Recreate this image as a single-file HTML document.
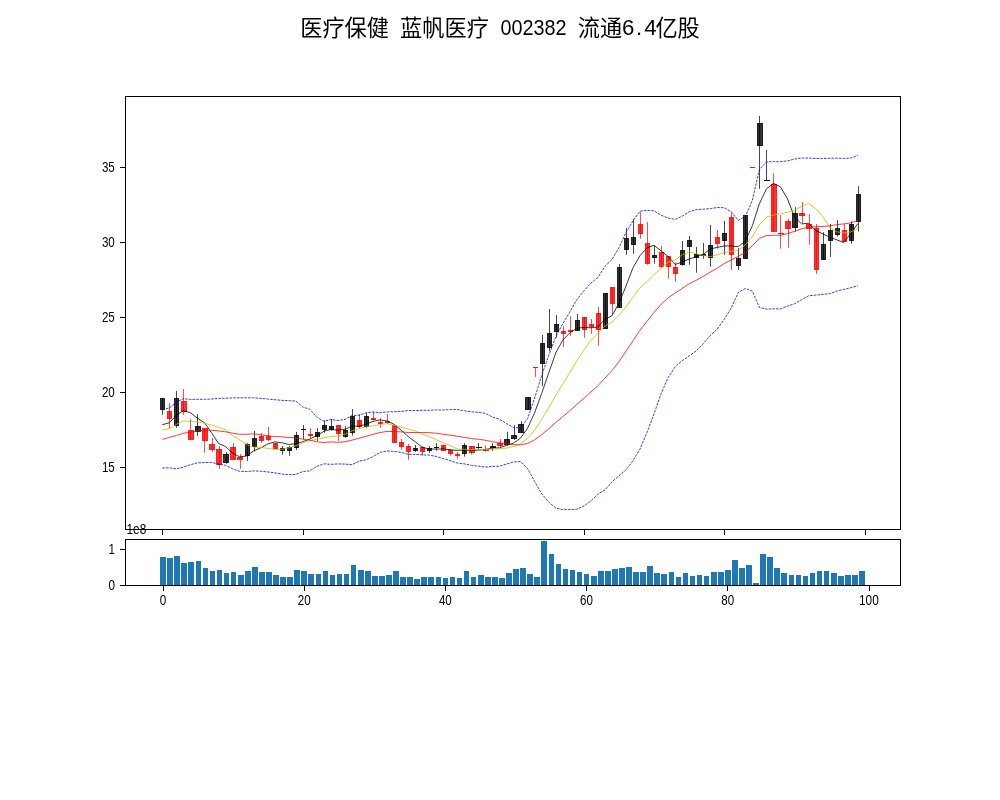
<!DOCTYPE html>
<html lang="zh"><head><meta charset="utf-8"><title>医疗保健 蓝帆医疗 002382</title>
<style>html,body{margin:0;padding:0;background:#fff;}svg{display:block;}text{font-family:"Liberation Sans","Noto Sans CJK SC",sans-serif;fill:#000;}.t{font-size:14.4px;}.cj{font-family:"Noto Sans CJK SC","WenQuanYi Zen Hei",sans-serif;font-size:22.2px;}.tn{font-size:22.2px;}</style></head><body>
<svg width="1000" height="800" viewBox="0 0 1000 800">
<rect width="1000" height="800" fill="#fff"/>
<text class="cj" x="300.20" y="36.0" textLength="88.8" lengthAdjust="spacing">医疗保健</text>
<text class="cj" x="400.10" y="36.0" textLength="88.8" lengthAdjust="spacing">蓝帆医疗</text>
<text class="tn" x="500.60" y="35.00" textLength="66.0" lengthAdjust="spacingAndGlyphs">002382</text>
<text class="cj" x="577.70" y="36.0" textLength="44.4" lengthAdjust="spacing">流通</text>
<text class="tn" x="622.0 636.0 644.2" y="35.00">6.4</text>
<text class="cj" x="655.40" y="36.0" textLength="44.4" lengthAdjust="spacing">亿股</text>
<g fill="#1f77b4" shape-rendering="crispEdges">
<rect x="160" y="557" width="6" height="28.5"/>
<rect x="167" y="558" width="6" height="27.5"/>
<rect x="174" y="556" width="6" height="29.5"/>
<rect x="181" y="563" width="6" height="22.5"/>
<rect x="188" y="562" width="6" height="23.5"/>
<rect x="196" y="561" width="5" height="24.5"/>
<rect x="203" y="568" width="5" height="17.5"/>
<rect x="210" y="571" width="5" height="14.5"/>
<rect x="217" y="570" width="5" height="15.5"/>
<rect x="224" y="573" width="5" height="12.5"/>
<rect x="231" y="572" width="5" height="13.5"/>
<rect x="238" y="575" width="6" height="10.5"/>
<rect x="245" y="571" width="6" height="14.5"/>
<rect x="252" y="567" width="6" height="18.5"/>
<rect x="259" y="572" width="6" height="13.5"/>
<rect x="266" y="572" width="6" height="13.5"/>
<rect x="273" y="575" width="6" height="10.5"/>
<rect x="280" y="577" width="6" height="8.5"/>
<rect x="287" y="577" width="6" height="8.5"/>
<rect x="294" y="570" width="6" height="15.5"/>
<rect x="301" y="571" width="6" height="14.5"/>
<rect x="308" y="574" width="6" height="11.5"/>
<rect x="316" y="574" width="5" height="11.5"/>
<rect x="323" y="571" width="5" height="14.5"/>
<rect x="330" y="575" width="5" height="10.5"/>
<rect x="337" y="574" width="5" height="11.5"/>
<rect x="344" y="574" width="5" height="11.5"/>
<rect x="351" y="565" width="5" height="20.5"/>
<rect x="358" y="570" width="6" height="15.5"/>
<rect x="365" y="571" width="6" height="14.5"/>
<rect x="372" y="576" width="6" height="9.5"/>
<rect x="379" y="576" width="6" height="9.5"/>
<rect x="386" y="575" width="6" height="10.5"/>
<rect x="393" y="571" width="6" height="14.5"/>
<rect x="400" y="577" width="6" height="8.5"/>
<rect x="407" y="577" width="6" height="8.5"/>
<rect x="414" y="579" width="6" height="6.5"/>
<rect x="421" y="577" width="6" height="8.5"/>
<rect x="428" y="577" width="6" height="8.5"/>
<rect x="436" y="577" width="5" height="8.5"/>
<rect x="443" y="578" width="5" height="7.5"/>
<rect x="450" y="577" width="5" height="8.5"/>
<rect x="457" y="578" width="5" height="7.5"/>
<rect x="464" y="571" width="5" height="14.5"/>
<rect x="471" y="577" width="5" height="8.5"/>
<rect x="478" y="575" width="6" height="10.5"/>
<rect x="485" y="577" width="6" height="8.5"/>
<rect x="492" y="577" width="6" height="8.5"/>
<rect x="499" y="578" width="6" height="7.5"/>
<rect x="506" y="573" width="6" height="12.5"/>
<rect x="513" y="569" width="6" height="16.5"/>
<rect x="520" y="568" width="6" height="17.5"/>
<rect x="527" y="574" width="6" height="11.5"/>
<rect x="534" y="577" width="6" height="8.5"/>
<rect x="541" y="541" width="6" height="44.5"/>
<rect x="549" y="554" width="5" height="31.5"/>
<rect x="556" y="564" width="5" height="21.5"/>
<rect x="563" y="569" width="5" height="16.5"/>
<rect x="570" y="570" width="5" height="15.5"/>
<rect x="577" y="572" width="5" height="13.5"/>
<rect x="584" y="574" width="5" height="11.5"/>
<rect x="591" y="576" width="6" height="9.5"/>
<rect x="598" y="571" width="6" height="14.5"/>
<rect x="605" y="571" width="6" height="14.5"/>
<rect x="612" y="569" width="6" height="16.5"/>
<rect x="619" y="568" width="6" height="17.5"/>
<rect x="626" y="567" width="6" height="18.5"/>
<rect x="633" y="572" width="6" height="13.5"/>
<rect x="640" y="572" width="6" height="13.5"/>
<rect x="647" y="566" width="6" height="19.5"/>
<rect x="654" y="573" width="6" height="12.5"/>
<rect x="661" y="574" width="6" height="11.5"/>
<rect x="669" y="572" width="5" height="13.5"/>
<rect x="676" y="577" width="5" height="8.5"/>
<rect x="683" y="573" width="5" height="12.5"/>
<rect x="690" y="576" width="5" height="9.5"/>
<rect x="697" y="575" width="5" height="10.5"/>
<rect x="704" y="576" width="5" height="9.5"/>
<rect x="711" y="572" width="6" height="13.5"/>
<rect x="718" y="572" width="6" height="13.5"/>
<rect x="725" y="570" width="6" height="15.5"/>
<rect x="732" y="560" width="6" height="25.5"/>
<rect x="739" y="568" width="6" height="17.5"/>
<rect x="746" y="565" width="6" height="20.5"/>
<rect x="753" y="583" width="6" height="2.5"/>
<rect x="760" y="554" width="6" height="31.5"/>
<rect x="767" y="557" width="6" height="28.5"/>
<rect x="774" y="568" width="6" height="17.5"/>
<rect x="781" y="573" width="6" height="12.5"/>
<rect x="789" y="575" width="5" height="10.5"/>
<rect x="796" y="575" width="5" height="10.5"/>
<rect x="803" y="576" width="5" height="9.5"/>
<rect x="810" y="573" width="5" height="12.5"/>
<rect x="817" y="571" width="5" height="14.5"/>
<rect x="824" y="571" width="5" height="14.5"/>
<rect x="831" y="573" width="6" height="12.5"/>
<rect x="838" y="576" width="6" height="9.5"/>
<rect x="845" y="575" width="6" height="10.5"/>
<rect x="852" y="575" width="6" height="10.5"/>
<rect x="859" y="571" width="6" height="14.5"/>
</g>
<g stroke-width="1.00">
<rect x="160.50" y="398.50" width="4.00" height="11.00" fill="#000" stroke="#000" fill-opacity="0.8" stroke-opacity="0.8"/>
<rect x="167.50" y="411.50" width="4.00" height="7.00" fill="#f00" stroke="#f00" fill-opacity="0.8" stroke-opacity="0.8"/>
<rect x="174.50" y="398.50" width="4.00" height="27.00" fill="#000" stroke="#000" fill-opacity="0.8" stroke-opacity="0.8"/>
<rect x="181.50" y="401.50" width="5.00" height="10.00" fill="#f00" stroke="#f00" fill-opacity="0.8" stroke-opacity="0.8"/>
<rect x="188.50" y="430.50" width="5.00" height="9.00" fill="#f00" stroke="#f00" fill-opacity="0.8" stroke-opacity="0.8"/>
<rect x="195.50" y="426.50" width="5.00" height="5.00" fill="#000" stroke="#000" fill-opacity="0.8" stroke-opacity="0.8"/>
<rect x="202.50" y="428.50" width="5.00" height="12.00" fill="#f00" stroke="#f00" fill-opacity="0.8" stroke-opacity="0.8"/>
<rect x="209.50" y="444.50" width="5.00" height="5.00" fill="#f00" stroke="#f00" fill-opacity="0.8" stroke-opacity="0.8"/>
<rect x="216.50" y="449.50" width="5.00" height="15.00" fill="#f00" stroke="#f00" fill-opacity="0.8" stroke-opacity="0.8"/>
<rect x="223.50" y="454.50" width="5.00" height="8.00" fill="#000" stroke="#000" fill-opacity="0.8" stroke-opacity="0.8"/>
<rect x="230.50" y="447.50" width="5.00" height="12.00" fill="#f00" stroke="#f00" fill-opacity="0.8" stroke-opacity="0.8"/>
<rect x="237.50" y="457.50" width="5.00" height="2.00" fill="#f00" stroke="#f00" fill-opacity="0.8" stroke-opacity="0.8"/>
<rect x="245.50" y="444.50" width="4.00" height="11.00" fill="#000" stroke="#000" fill-opacity="0.8" stroke-opacity="0.8"/>
<rect x="252.50" y="438.50" width="4.00" height="8.00" fill="#000" stroke="#000" fill-opacity="0.8" stroke-opacity="0.8"/>
<rect x="259.50" y="436.50" width="4.00" height="4.00" fill="#f00" stroke="#f00" fill-opacity="0.8" stroke-opacity="0.8"/>
<rect x="266.50" y="436.50" width="4.00" height="3.00" fill="#f00" stroke="#f00" fill-opacity="0.8" stroke-opacity="0.8"/>
<rect x="273.50" y="443.50" width="4.00" height="5.00" fill="#f00" stroke="#f00" fill-opacity="0.8" stroke-opacity="0.8"/>
<rect x="280.50" y="448.50" width="4.00" height="2.00" fill="#000" stroke="#000" fill-opacity="0.8" stroke-opacity="0.8"/>
<rect x="287.50" y="447.50" width="4.00" height="3.00" fill="#000" stroke="#000" fill-opacity="0.8" stroke-opacity="0.8"/>
<rect x="294.50" y="435.50" width="4.00" height="12.00" fill="#000" stroke="#000" fill-opacity="0.8" stroke-opacity="0.8"/>
<path d="M301.00 429.50H306.00" stroke="#000" stroke-opacity="0.93" fill="none"/>
<rect x="308.50" y="434.50" width="4.00" height="1.00" fill="#f00" stroke="#f00" fill-opacity="0.8" stroke-opacity="0.8"/>
<rect x="315.50" y="432.50" width="4.00" height="4.00" fill="#000" stroke="#000" fill-opacity="0.8" stroke-opacity="0.8"/>
<rect x="322.50" y="425.50" width="4.00" height="4.00" fill="#000" stroke="#000" fill-opacity="0.8" stroke-opacity="0.8"/>
<rect x="329.50" y="426.50" width="4.00" height="3.00" fill="#000" stroke="#000" fill-opacity="0.8" stroke-opacity="0.8"/>
<rect x="336.50" y="425.50" width="4.00" height="8.00" fill="#f00" stroke="#f00" fill-opacity="0.8" stroke-opacity="0.8"/>
<rect x="343.50" y="430.50" width="4.00" height="6.00" fill="#000" stroke="#000" fill-opacity="0.8" stroke-opacity="0.8"/>
<rect x="350.50" y="416.50" width="4.00" height="16.00" fill="#000" stroke="#000" fill-opacity="0.8" stroke-opacity="0.8"/>
<rect x="357.50" y="420.50" width="4.00" height="6.00" fill="#f00" stroke="#f00" fill-opacity="0.8" stroke-opacity="0.8"/>
<rect x="364.50" y="416.50" width="4.00" height="10.00" fill="#000" stroke="#000" fill-opacity="0.8" stroke-opacity="0.8"/>
<rect x="371.50" y="418.50" width="4.00" height="1.00" fill="#f00" stroke="#f00" fill-opacity="0.8" stroke-opacity="0.8"/>
<rect x="378.50" y="422.50" width="4.00" height="1.00" fill="#f00" stroke="#f00" fill-opacity="0.8" stroke-opacity="0.8"/>
<rect x="385.50" y="421.50" width="4.00" height="1.00" fill="#f00" stroke="#f00" fill-opacity="0.8" stroke-opacity="0.8"/>
<rect x="392.50" y="425.50" width="4.00" height="17.00" fill="#f00" stroke="#f00" fill-opacity="0.8" stroke-opacity="0.8"/>
<rect x="399.50" y="442.50" width="4.00" height="4.00" fill="#f00" stroke="#f00" fill-opacity="0.8" stroke-opacity="0.8"/>
<rect x="406.50" y="446.50" width="4.00" height="5.00" fill="#f00" stroke="#f00" fill-opacity="0.8" stroke-opacity="0.8"/>
<rect x="413.50" y="448.50" width="4.00" height="2.00" fill="#000" stroke="#000" fill-opacity="0.8" stroke-opacity="0.8"/>
<rect x="420.50" y="447.50" width="4.00" height="4.00" fill="#f00" stroke="#f00" fill-opacity="0.8" stroke-opacity="0.8"/>
<rect x="427.50" y="448.50" width="4.00" height="2.00" fill="#000" stroke="#000" fill-opacity="0.8" stroke-opacity="0.8"/>
<path d="M434.00 447.50H439.00" stroke="#000" stroke-opacity="0.93" fill="none"/>
<rect x="441.50" y="445.50" width="4.00" height="5.00" fill="#f00" stroke="#f00" fill-opacity="0.8" stroke-opacity="0.8"/>
<rect x="448.50" y="450.50" width="4.00" height="3.00" fill="#f00" stroke="#f00" fill-opacity="0.8" stroke-opacity="0.8"/>
<rect x="455.50" y="454.50" width="4.00" height="1.00" fill="#f00" stroke="#f00" fill-opacity="0.8" stroke-opacity="0.8"/>
<rect x="462.50" y="445.50" width="4.00" height="8.00" fill="#000" stroke="#000" fill-opacity="0.8" stroke-opacity="0.8"/>
<rect x="469.50" y="446.50" width="5.00" height="6.00" fill="#f00" stroke="#f00" fill-opacity="0.8" stroke-opacity="0.8"/>
<path d="M476.00 447.50H482.00" stroke="#000" stroke-opacity="0.93" fill="none"/>
<rect x="483.50" y="449.50" width="5.00" height="1.00" fill="#f00" stroke="#f00" fill-opacity="0.8" stroke-opacity="0.8"/>
<rect x="490.50" y="446.50" width="5.00" height="1.00" fill="#000" stroke="#000" fill-opacity="0.8" stroke-opacity="0.8"/>
<rect x="497.50" y="443.50" width="5.00" height="2.00" fill="#f00" stroke="#f00" fill-opacity="0.8" stroke-opacity="0.8"/>
<rect x="504.50" y="439.50" width="5.00" height="5.00" fill="#000" stroke="#000" fill-opacity="0.8" stroke-opacity="0.8"/>
<rect x="511.50" y="435.50" width="5.00" height="3.00" fill="#000" stroke="#000" fill-opacity="0.8" stroke-opacity="0.8"/>
<rect x="518.50" y="424.50" width="5.00" height="8.00" fill="#000" stroke="#000" fill-opacity="0.8" stroke-opacity="0.8"/>
<rect x="525.50" y="397.50" width="5.00" height="12.00" fill="#000" stroke="#000" fill-opacity="0.8" stroke-opacity="0.8"/>
<path d="M533.00 367.50H538.00" stroke="#f00" stroke-opacity="0.93" fill="none"/>
<rect x="540.50" y="343.50" width="4.00" height="20.00" fill="#000" stroke="#000" fill-opacity="0.8" stroke-opacity="0.8"/>
<rect x="547.50" y="333.50" width="4.00" height="14.00" fill="#000" stroke="#000" fill-opacity="0.8" stroke-opacity="0.8"/>
<rect x="554.50" y="324.50" width="4.00" height="7.00" fill="#000" stroke="#000" fill-opacity="0.8" stroke-opacity="0.8"/>
<rect x="561.50" y="331.50" width="4.00" height="2.00" fill="#f00" stroke="#f00" fill-opacity="0.8" stroke-opacity="0.8"/>
<rect x="568.50" y="330.50" width="4.00" height="1.00" fill="#f00" stroke="#f00" fill-opacity="0.8" stroke-opacity="0.8"/>
<rect x="575.50" y="320.50" width="4.00" height="10.00" fill="#000" stroke="#000" fill-opacity="0.8" stroke-opacity="0.8"/>
<rect x="582.50" y="317.50" width="4.00" height="12.00" fill="#f00" stroke="#f00" fill-opacity="0.8" stroke-opacity="0.8"/>
<rect x="589.50" y="324.50" width="4.00" height="2.00" fill="#f00" stroke="#f00" fill-opacity="0.8" stroke-opacity="0.8"/>
<rect x="596.50" y="313.50" width="4.00" height="16.00" fill="#f00" stroke="#f00" fill-opacity="0.8" stroke-opacity="0.8"/>
<rect x="603.50" y="293.50" width="4.00" height="35.00" fill="#000" stroke="#000" fill-opacity="0.8" stroke-opacity="0.8"/>
<rect x="610.50" y="287.50" width="4.00" height="16.00" fill="#f00" stroke="#f00" fill-opacity="0.8" stroke-opacity="0.8"/>
<rect x="617.50" y="267.50" width="4.00" height="40.00" fill="#000" stroke="#000" fill-opacity="0.8" stroke-opacity="0.8"/>
<rect x="624.50" y="238.50" width="4.00" height="11.00" fill="#000" stroke="#000" fill-opacity="0.8" stroke-opacity="0.8"/>
<rect x="631.50" y="237.50" width="4.00" height="7.00" fill="#000" stroke="#000" fill-opacity="0.8" stroke-opacity="0.8"/>
<rect x="638.50" y="224.50" width="4.00" height="9.00" fill="#f00" stroke="#f00" fill-opacity="0.8" stroke-opacity="0.8"/>
<rect x="645.50" y="243.50" width="4.00" height="20.00" fill="#f00" stroke="#f00" fill-opacity="0.8" stroke-opacity="0.8"/>
<rect x="652.50" y="255.50" width="4.00" height="2.00" fill="#000" stroke="#000" fill-opacity="0.8" stroke-opacity="0.8"/>
<rect x="659.50" y="252.50" width="4.00" height="14.00" fill="#f00" stroke="#f00" fill-opacity="0.8" stroke-opacity="0.8"/>
<rect x="666.50" y="256.50" width="4.00" height="10.00" fill="#f00" stroke="#f00" fill-opacity="0.8" stroke-opacity="0.8"/>
<rect x="673.50" y="267.50" width="4.00" height="6.00" fill="#f00" stroke="#f00" fill-opacity="0.8" stroke-opacity="0.8"/>
<rect x="680.50" y="250.50" width="4.00" height="14.00" fill="#000" stroke="#000" fill-opacity="0.8" stroke-opacity="0.8"/>
<rect x="687.50" y="240.50" width="4.00" height="6.00" fill="#000" stroke="#000" fill-opacity="0.8" stroke-opacity="0.8"/>
<rect x="694.50" y="254.50" width="4.00" height="3.00" fill="#000" stroke="#000" fill-opacity="0.8" stroke-opacity="0.8"/>
<rect x="701.50" y="254.50" width="4.00" height="1.00" fill="#000" stroke="#000" fill-opacity="0.8" stroke-opacity="0.8"/>
<rect x="708.50" y="245.50" width="4.00" height="12.00" fill="#000" stroke="#000" fill-opacity="0.8" stroke-opacity="0.8"/>
<rect x="715.50" y="237.50" width="4.00" height="6.00" fill="#f00" stroke="#f00" fill-opacity="0.8" stroke-opacity="0.8"/>
<rect x="722.50" y="233.50" width="4.00" height="7.00" fill="#000" stroke="#000" fill-opacity="0.8" stroke-opacity="0.8"/>
<rect x="729.50" y="217.50" width="4.00" height="37.00" fill="#f00" stroke="#f00" fill-opacity="0.8" stroke-opacity="0.8"/>
<rect x="736.50" y="258.50" width="4.00" height="7.00" fill="#000" stroke="#000" fill-opacity="0.8" stroke-opacity="0.8"/>
<rect x="743.50" y="215.50" width="4.00" height="43.00" fill="#000" stroke="#000" fill-opacity="0.8" stroke-opacity="0.8"/>
<path d="M750.00 167.50H755.00" stroke="#f00" stroke-opacity="0.93" fill="none"/>
<rect x="757.50" y="123.50" width="5.00" height="22.00" fill="#000" stroke="#000" fill-opacity="0.8" stroke-opacity="0.8"/>
<path d="M764.00 180.50H770.00" stroke="#000" stroke-opacity="0.93" fill="none"/>
<rect x="771.50" y="184.50" width="5.00" height="47.00" fill="#f00" stroke="#f00" fill-opacity="0.8" stroke-opacity="0.8"/>
<path d="M778.00 233.50H784.00" stroke="#f00" stroke-opacity="0.93" fill="none"/>
<rect x="785.50" y="221.50" width="5.00" height="7.00" fill="#f00" stroke="#f00" fill-opacity="0.8" stroke-opacity="0.8"/>
<rect x="792.50" y="213.50" width="5.00" height="14.00" fill="#000" stroke="#000" fill-opacity="0.8" stroke-opacity="0.8"/>
<rect x="799.50" y="213.50" width="5.00" height="2.00" fill="#f00" stroke="#f00" fill-opacity="0.8" stroke-opacity="0.8"/>
<rect x="806.50" y="224.50" width="5.00" height="4.00" fill="#f00" stroke="#f00" fill-opacity="0.8" stroke-opacity="0.8"/>
<rect x="814.50" y="228.50" width="4.00" height="41.00" fill="#f00" stroke="#f00" fill-opacity="0.8" stroke-opacity="0.8"/>
<rect x="821.50" y="244.50" width="4.00" height="15.00" fill="#000" stroke="#000" fill-opacity="0.8" stroke-opacity="0.8"/>
<rect x="828.50" y="230.50" width="4.00" height="10.00" fill="#000" stroke="#000" fill-opacity="0.8" stroke-opacity="0.8"/>
<rect x="835.50" y="228.50" width="4.00" height="6.00" fill="#000" stroke="#000" fill-opacity="0.8" stroke-opacity="0.8"/>
<rect x="842.50" y="230.50" width="4.00" height="11.00" fill="#f00" stroke="#f00" fill-opacity="0.8" stroke-opacity="0.8"/>
<rect x="849.50" y="224.50" width="4.00" height="16.00" fill="#000" stroke="#000" fill-opacity="0.8" stroke-opacity="0.8"/>
<rect x="856.50" y="194.50" width="4.00" height="27.00" fill="#000" stroke="#000" fill-opacity="0.8" stroke-opacity="0.8"/>
</g>
<g stroke-width="0.72" fill="none">
<path d="M162.50 398.10V414.75" stroke="#000"/>
<path d="M169.50 403.10V428.10" stroke="#f00"/>
<path d="M176.50 391.00V427.75" stroke="#000"/>
<path d="M183.50 389.00V415.00" stroke="#f00"/>
<path d="M190.50 419.00V439.60" stroke="#f00"/>
<path d="M197.50 414.10V435.90" stroke="#000"/>
<path d="M204.50 428.40V452.75" stroke="#f00"/>
<path d="M212.50 438.10V451.90" stroke="#f00"/>
<path d="M219.50 446.25V468.75" stroke="#f00"/>
<path d="M226.50 452.10V463.75" stroke="#000"/>
<path d="M233.50 443.10V459.60" stroke="#f00"/>
<path d="M240.50 454.00V468.75" stroke="#f00"/>
<path d="M247.50 443.10V460.90" stroke="#000"/>
<path d="M254.50 431.00V451.50" stroke="#000"/>
<path d="M261.50 433.10V442.90" stroke="#f00"/>
<path d="M268.50 427.00V441.00" stroke="#f00"/>
<path d="M275.50 442.90V449.10" stroke="#f00"/>
<path d="M282.50 446.00V454.75" stroke="#000"/>
<path d="M289.50 446.00V455.90" stroke="#000"/>
<path d="M296.50 431.90V450.00" stroke="#000"/>
<path d="M303.50 425.00V439.00" stroke="#000"/>
<path d="M310.50 428.10V438.10" stroke="#f00"/>
<path d="M317.50 428.10V440.90" stroke="#000"/>
<path d="M324.50 420.40V432.75" stroke="#000"/>
<path d="M331.50 419.00V430.60" stroke="#000"/>
<path d="M338.50 425.25V440.90" stroke="#f00"/>
<path d="M345.50 426.25V437.75" stroke="#000"/>
<path d="M352.50 409.00V435.60" stroke="#000"/>
<path d="M359.50 414.00V428.40" stroke="#f00"/>
<path d="M366.50 413.10V427.90" stroke="#000"/>
<path d="M373.50 411.90V420.40" stroke="#f00"/>
<path d="M380.50 418.10V427.90" stroke="#f00"/>
<path d="M387.50 414.00V423.75" stroke="#f00"/>
<path d="M394.50 425.25V442.50" stroke="#f00"/>
<path d="M401.50 439.00V449.75" stroke="#f00"/>
<path d="M408.50 444.00V459.75" stroke="#f00"/>
<path d="M415.50 445.00V451.90" stroke="#000"/>
<path d="M422.50 446.25V455.60" stroke="#f00"/>
<path d="M429.50 446.00V452.90" stroke="#000"/>
<path d="M436.50 443.10V450.60" stroke="#000"/>
<path d="M443.50 444.40V451.00" stroke="#f00"/>
<path d="M450.50 449.00V455.60" stroke="#f00"/>
<path d="M457.50 452.10V458.75" stroke="#f00"/>
<path d="M464.50 443.10V456.60" stroke="#000"/>
<path d="M471.50 446.25V454.60" stroke="#f00"/>
<path d="M478.50 443.10V449.40" stroke="#000"/>
<path d="M485.50 445.40V451.60" stroke="#f00"/>
<path d="M492.50 443.10V450.90" stroke="#000"/>
<path d="M500.50 439.00V447.30" stroke="#f00"/>
<path d="M507.50 431.90V445.60" stroke="#000"/>
<path d="M514.50 425.00V440.00" stroke="#000"/>
<path d="M521.50 421.25V433.10" stroke="#000"/>
<path d="M528.50 397.25V409.40" stroke="#000"/>
<path d="M535.50 367.50V376.90" stroke="#f00"/>
<path d="M542.50 335.00V386.25" stroke="#000"/>
<path d="M549.50 309.00V351.25" stroke="#000"/>
<path d="M556.50 315.00V337.50" stroke="#000"/>
<path d="M563.50 326.25V346.90" stroke="#f00"/>
<path d="M570.50 316.25V335.90" stroke="#f00"/>
<path d="M577.50 314.00V330.40" stroke="#000"/>
<path d="M584.50 317.10V337.90" stroke="#f00"/>
<path d="M591.50 319.00V333.75" stroke="#f00"/>
<path d="M598.50 306.90V345.90" stroke="#f00"/>
<path d="M605.50 293.10V328.50" stroke="#000"/>
<path d="M612.50 287.10V314.40" stroke="#f00"/>
<path d="M619.50 264.00V308.10" stroke="#000"/>
<path d="M626.50 228.10V254.75" stroke="#000"/>
<path d="M633.50 219.40V253.75" stroke="#000"/>
<path d="M640.50 212.25V238.75" stroke="#f00"/>
<path d="M647.50 221.90V264.75" stroke="#f00"/>
<path d="M654.50 245.60V263.75" stroke="#000"/>
<path d="M661.50 246.00V268.10" stroke="#f00"/>
<path d="M668.50 256.25V278.75" stroke="#f00"/>
<path d="M675.50 262.50V281.60" stroke="#f00"/>
<path d="M682.50 241.00V265.60" stroke="#000"/>
<path d="M689.50 236.00V264.75" stroke="#000"/>
<path d="M696.50 246.90V272.75" stroke="#000"/>
<path d="M703.50 242.90V258.75" stroke="#000"/>
<path d="M710.50 225.00V266.90" stroke="#000"/>
<path d="M717.50 230.00V248.75" stroke="#f00"/>
<path d="M724.50 221.00V254.75" stroke="#000"/>
<path d="M731.50 213.10V270.00" stroke="#f00"/>
<path d="M738.50 248.10V270.00" stroke="#000"/>
<path d="M745.50 215.40V258.40" stroke="#000"/>
<path d="M759.50 116.00V188.75" stroke="#000"/>
<path d="M766.50 150.00V180.60" stroke="#000"/>
<path d="M773.50 173.10V231.50" stroke="#f00"/>
<path d="M780.50 215.00V248.75" stroke="#f00"/>
<path d="M788.50 218.75V247.90" stroke="#f00"/>
<path d="M795.50 207.20V231.75" stroke="#000"/>
<path d="M802.50 201.90V223.30" stroke="#f00"/>
<path d="M809.50 214.00V244.75" stroke="#f00"/>
<path d="M816.50 224.00V274.00" stroke="#f00"/>
<path d="M823.50 232.25V259.60" stroke="#000"/>
<path d="M830.50 224.00V256.90" stroke="#000"/>
<path d="M837.50 220.10V236.60" stroke="#000"/>
<path d="M844.50 224.00V241.90" stroke="#f00"/>
<path d="M851.50 221.25V243.75" stroke="#000"/>
<path d="M858.50 186.25V231.60" stroke="#000"/>
</g>
<g stroke-width="0.78" stroke-linejoin="round">
<polyline points="162.33,424.70 169.35,422.80 176.38,415.30 183.40,410.70 190.43,412.66 197.45,418.29 204.48,422.66 211.50,432.76 218.53,443.43 225.55,446.59 232.58,453.06 239.60,456.86 246.62,455.96 253.65,450.92 260.67,447.92 267.70,443.96 274.72,441.86 281.75,442.74 288.77,444.51 295.80,443.68 302.82,441.70 309.84,439.06 316.87,435.66 323.89,431.26 330.92,429.46 337.94,430.18 344.97,429.25 351.99,426.20 359.02,426.20 366.04,424.20 373.06,421.42 380.09,419.92 387.11,421.09 394.14,424.34 401.16,430.19 408.19,436.59 415.21,441.74 422.24,447.44 429.26,448.84 436.29,449.16 443.31,448.92 450.33,449.72 457.36,450.45 464.38,449.83 471.41,450.71 478.43,450.15 485.46,449.53 492.48,447.98 499.51,447.80 506.53,445.38 513.55,443.06 520.58,438.06 527.60,428.21 534.63,412.71 541.65,393.45 548.68,373.07 555.70,353.01 562.73,340.11 569.75,332.89 576.78,328.32 583.80,327.42 590.82,327.78 597.85,326.95 604.87,319.39 611.90,315.84 618.92,303.57 625.95,286.07 632.97,267.80 640.00,255.68 647.02,247.73 654.04,245.36 661.07,250.80 668.09,256.47 675.12,264.47 682.14,262.00 689.17,259.00 696.19,256.63 703.22,254.39 710.24,248.97 717.27,247.39 724.29,245.97 731.31,245.92 738.34,246.74 745.36,240.74 752.39,225.64 759.41,203.60 766.44,188.92 773.46,183.32 780.49,186.84 787.51,198.94 794.53,217.00 801.56,223.88 808.58,223.28 815.61,230.42 822.63,233.80 829.66,237.20 836.68,239.80 843.71,242.48 850.73,233.62 857.76,223.62" fill="none" stroke="#000" />
<polyline points="162.33,429.70 169.35,428.80 176.38,424.30 183.40,420.90 190.43,421.55 197.45,421.90 204.48,423.20 211.50,425.05 218.53,427.20 225.55,429.90 232.58,435.68 239.60,439.76 246.62,444.36 253.65,447.18 260.67,447.26 267.70,448.51 274.72,449.36 281.75,449.35 288.77,447.71 295.80,445.80 302.82,442.83 309.84,440.46 316.87,439.20 323.89,437.89 330.92,436.57 337.94,435.94 344.97,434.16 351.99,430.93 359.02,428.73 366.04,426.83 373.06,425.80 380.09,424.59 387.11,423.64 394.14,425.27 401.16,427.19 408.19,429.01 415.21,430.83 422.24,434.27 429.26,436.59 436.29,439.68 443.31,442.76 450.33,445.73 457.36,448.94 464.38,449.33 471.41,449.94 478.43,449.54 485.46,449.62 492.48,449.21 499.51,448.81 506.53,448.05 513.55,446.61 520.58,443.80 527.60,438.10 534.63,430.26 541.65,419.42 548.68,408.06 555.70,395.54 562.73,384.16 569.75,372.80 576.78,360.89 583.80,350.25 590.82,340.39 597.85,333.53 604.87,326.14 611.90,322.08 618.92,315.50 625.95,306.93 632.97,297.38 640.00,287.54 647.02,281.79 654.04,274.47 661.07,268.44 668.09,262.13 675.12,260.08 682.14,254.87 689.17,252.18 696.19,253.72 703.22,255.43 710.24,256.72 717.27,254.70 724.29,252.49 731.31,251.28 738.34,250.56 745.36,244.86 752.39,236.52 759.41,224.78 766.44,217.42 773.46,215.03 780.49,213.79 787.51,212.29 794.53,210.30 801.56,206.40 808.58,203.30 815.61,208.63 822.63,216.37 829.66,227.10 836.68,231.84 843.71,232.88 850.73,232.02 857.76,228.71" fill="none" stroke="#bfbf00" />
<polyline points="162.33,439.40 169.35,437.40 176.38,435.55 183.40,433.20 190.43,432.20 197.45,431.20 204.48,430.30 211.50,430.30 218.53,430.90 225.55,431.80 232.58,433.20 239.60,434.30 246.62,434.30 253.65,433.80 260.67,434.70 267.70,435.70 274.72,436.55 281.75,436.80 288.77,437.55 295.80,437.71 302.82,439.25 309.84,440.11 316.87,441.78 323.89,442.53 330.92,441.91 337.94,442.23 344.97,441.76 351.99,440.14 359.02,438.22 366.04,436.31 373.06,434.32 380.09,432.52 387.11,431.42 394.14,431.58 401.16,431.88 408.19,432.47 415.21,432.49 422.24,432.60 429.26,432.66 436.29,433.25 443.31,434.28 450.33,435.16 457.36,436.30 464.38,437.30 471.41,438.56 478.43,439.27 485.46,440.23 492.48,441.74 499.51,442.70 506.53,443.86 513.55,444.68 520.58,444.76 527.60,443.52 534.63,439.80 541.65,434.68 548.68,428.80 555.70,422.58 562.73,416.69 569.75,410.81 576.78,404.46 583.80,398.43 590.82,392.10 597.85,385.81 604.87,378.20 611.90,370.75 618.92,361.78 625.95,351.23 632.97,340.77 640.00,330.17 647.02,321.34 654.04,312.36 661.07,304.41 668.09,297.83 675.12,293.11 682.14,288.47 689.17,283.84 696.19,280.32 703.22,276.40 710.24,272.13 717.27,268.24 724.29,263.47 731.31,259.86 738.34,256.35 745.36,252.47 752.39,245.69 759.41,238.48 766.44,235.57 773.46,235.23 780.49,235.26 787.51,233.49 794.53,231.39 801.56,228.84 808.58,226.93 815.61,226.74 822.63,226.44 829.66,225.94 836.68,224.63 843.71,223.95 850.73,222.90 857.76,220.50" fill="none" stroke="#f00" />
<polyline points="162.33,409.30 169.35,408.05 176.38,402.20 183.40,398.70 190.43,399.40 197.45,399.30 204.48,399.30 211.50,399.05 218.53,398.40 225.55,398.20 232.58,397.90 239.60,397.80 246.62,397.80 253.65,397.80 260.67,398.40 267.70,399.05 274.72,399.70 281.75,400.30 288.77,400.70 295.80,401.02 302.82,407.00 309.84,409.30 316.87,417.26 323.89,421.19 330.92,419.48 337.94,420.51 344.97,419.45 351.99,415.51 359.02,415.31 366.04,412.80 373.06,411.98 380.09,412.69 387.11,411.87 394.14,411.75 401.16,411.40 408.19,410.59 415.21,410.55 422.24,410.33 429.26,410.22 436.29,409.95 443.31,410.03 450.33,409.62 457.36,409.50 464.38,410.72 471.41,411.78 478.43,412.41 485.46,413.34 492.48,417.09 499.51,419.21 506.53,423.62 513.55,427.48 520.58,427.97 527.60,418.55 534.63,398.14 541.65,375.60 548.68,355.59 555.70,337.05 562.73,323.80 569.75,312.04 576.78,299.75 583.80,290.90 590.82,283.17 597.85,277.49 604.87,266.37 611.90,259.62 618.92,247.71 625.95,232.63 632.97,220.75 640.00,211.26 647.02,210.24 654.04,210.88 661.07,215.17 668.09,218.05 675.12,219.33 682.14,216.24 689.17,211.78 696.19,209.63 703.22,209.19 710.24,208.58 717.27,207.51 724.29,207.72 731.31,211.96 738.34,220.34 745.36,216.43 752.39,200.19 759.41,169.42 766.44,161.98 773.46,161.62 780.49,161.65 787.51,160.93 794.53,159.07 801.56,157.95 808.58,158.09 815.61,158.39 822.63,158.46 829.66,158.23 836.68,158.13 843.71,158.41 850.73,158.10 857.76,155.23" fill="none" stroke="#00f" stroke-dasharray="2.6 1.1"/>
<polyline points="162.33,468.05 169.35,467.80 176.38,468.80 183.40,467.20 190.43,464.70 197.45,462.80 204.48,462.55 211.50,462.40 218.53,464.05 225.55,465.30 232.58,468.80 239.60,471.30 246.62,471.55 253.65,470.90 260.67,471.20 267.70,471.90 274.72,472.80 281.75,474.05 288.77,474.70 295.80,474.41 302.82,471.50 309.84,470.92 316.87,466.30 323.89,463.87 330.92,464.34 337.94,463.94 344.97,464.07 351.99,464.77 359.02,461.13 366.04,459.83 373.06,456.65 380.09,452.35 387.11,450.98 394.14,451.40 401.16,452.36 408.19,454.36 415.21,454.44 422.24,454.87 429.26,455.10 436.29,456.56 443.31,458.53 450.33,460.69 457.36,463.09 464.38,463.89 471.41,465.35 478.43,466.13 485.46,467.11 492.48,466.39 499.51,466.20 506.53,464.10 513.55,461.88 520.58,461.56 527.60,468.49 534.63,481.45 541.65,493.75 548.68,502.01 555.70,508.11 562.73,509.58 569.75,509.57 576.78,509.18 583.80,505.95 590.82,501.02 597.85,494.14 604.87,490.03 611.90,481.87 618.92,475.85 625.95,469.83 632.97,460.78 640.00,449.07 647.02,432.43 654.04,413.83 661.07,393.66 668.09,377.61 675.12,366.88 682.14,360.71 689.17,355.90 696.19,351.01 703.22,343.61 710.24,335.68 717.27,328.97 724.29,319.23 731.31,307.75 738.34,292.36 745.36,288.50 752.39,291.19 759.41,307.54 766.44,309.15 773.46,308.84 780.49,308.86 787.51,306.05 794.53,303.71 801.56,299.73 808.58,295.77 815.61,295.10 822.63,294.43 829.66,293.66 836.68,291.13 843.71,289.50 850.73,287.71 857.76,285.77" fill="none" stroke="#00f" stroke-dasharray="2.6 1.1"/>
</g>
<g fill="none" stroke="#000" stroke-width="1.1" shape-rendering="crispEdges">
<rect x="125.5" y="96.5" width="775" height="433"/>
<rect x="125.5" y="539.5" width="775" height="46"/>
</g>
<g stroke="#000" stroke-width="1.1" shape-rendering="crispEdges">
<path d="M120.2 467.5H125.5"/>
<path d="M120.2 392.5H125.5"/>
<path d="M120.2 317.5H125.5"/>
<path d="M120.2 242.5H125.5"/>
<path d="M120.2 167.5H125.5"/>
<path d="M162.5 529.5V534.9"/>
<path d="M303.5 529.5V534.9"/>
<path d="M443.5 529.5V534.9"/>
<path d="M584.5 529.5V534.9"/>
<path d="M724.5 529.5V534.9"/>
<path d="M865.5 529.5V534.9"/>
<path d="M120.2 549.5H125.5"/>
<path d="M120.2 585.5H125.5"/>
<path d="M163.5 585.5V590.9"/>
<path d="M304.5 585.5V590.9"/>
<path d="M445.5 585.5V590.9"/>
<path d="M586.5 585.5V590.9"/>
<path d="M727.5 585.5V590.9"/>
<path d="M869.5 585.5V590.9"/>
</g>
<text class="t" x="101.92" y="472.30" textLength="12.88" lengthAdjust="spacingAndGlyphs">15</text>
<text class="t" x="101.92" y="397.30" textLength="12.88" lengthAdjust="spacingAndGlyphs">20</text>
<text class="t" x="101.92" y="322.30" textLength="12.88" lengthAdjust="spacingAndGlyphs">25</text>
<text class="t" x="101.92" y="247.30" textLength="12.88" lengthAdjust="spacingAndGlyphs">30</text>
<text class="t" x="101.92" y="172.30" textLength="12.88" lengthAdjust="spacingAndGlyphs">35</text>
<text class="t" x="108.56" y="554.30" textLength="6.50" lengthAdjust="spacingAndGlyphs">1</text>
<text class="t" x="108.56" y="590.30" textLength="6.50" lengthAdjust="spacingAndGlyphs">0</text>
<text class="t" x="159.68" y="605.00" textLength="6.50" lengthAdjust="spacingAndGlyphs">0</text>
<text class="t" x="297.70" y="605.00" textLength="12.88" lengthAdjust="spacingAndGlyphs">20</text>
<text class="t" x="438.89" y="605.00" textLength="12.88" lengthAdjust="spacingAndGlyphs">40</text>
<text class="t" x="580.09" y="605.00" textLength="12.88" lengthAdjust="spacingAndGlyphs">60</text>
<text class="t" x="721.28" y="605.00" textLength="12.88" lengthAdjust="spacingAndGlyphs">80</text>
<text class="t" x="859.00" y="605.00" textLength="19.82" lengthAdjust="spacingAndGlyphs">100</text>
<text class="t" x="126.50" y="533.90" textLength="19.82" lengthAdjust="spacingAndGlyphs">1e8</text>
</svg></body></html>
